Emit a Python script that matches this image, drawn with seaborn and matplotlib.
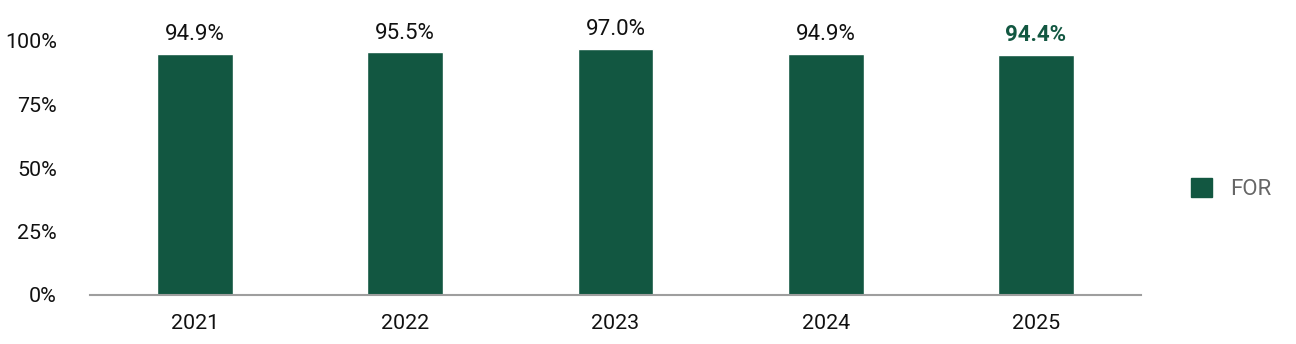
import matplotlib
matplotlib.use("Agg")
import matplotlib.pyplot as plt
import seaborn as sns
import pandas as pd
from matplotlib.patches import Patch

years = ["2021", "2022", "2023", "2024", "2025"]
values = [94.9, 95.5, 97.0, 94.9, 94.4]
series_name = "FOR"
color = "#125741"

sns.set_style("white")
plt.rcParams["font.family"] = ["Roboto", "DejaVu Sans"]

df = pd.DataFrame({"year": years, "value": values})

fig = plt.figure(figsize=(12.96, 3.44), dpi=100)
ax = fig.add_axes([90/1296, 1 - 295/344, (1141-90)/1296, (295-41)/344])
sns.barplot(data=df, x="year", y="value", color=color, width=0.36,
            saturation=1, ax=ax)

ax.set_ylim(0, 100)
ax.set_xlim(-0.5, len(years) - 0.5)
ax.set_yticks([0, 25, 50, 75, 100])
ax.set_yticklabels([f"{t}%" for t in [0, 25, 50, 75, 100]])
ax.tick_params(axis="both", labelsize=15.4, length=0, colors="#111111")
ax.tick_params(axis="x", pad=14)
ax.tick_params(axis="y", pad=24)
ax.set_xlabel("")
ax.set_ylabel("")
for s in ["top", "right", "left"]:
    ax.spines[s].set_visible(False)
ax.spines["bottom"].set_color("#9e9e9e")
ax.spines["bottom"].set_linewidth(1.5)

for i, (p, v) in enumerate(zip(ax.patches, values)):
    last = i == len(values) - 1
    ax.text(p.get_x() + p.get_width() / 2, p.get_height() + 3.5, f"{v:.1f}%",
            ha="center", va="bottom", fontsize=16, clip_on=False,
            color=color if last else "#111111",
            fontweight="bold" if last else "normal")

handles = [Patch(facecolor=color, edgecolor=color, label=series_name)]
leg = fig.legend(handles=handles, loc="center left", bbox_to_anchor=(1171/1296, 1 - 189/344),
                 frameon=False, fontsize=16, handlelength=0.95, handleheight=0.95,
                 handletextpad=0.8)
for t in leg.get_texts():
    t.set_color("#666666")

fig.savefig("out.png", dpi=100)
